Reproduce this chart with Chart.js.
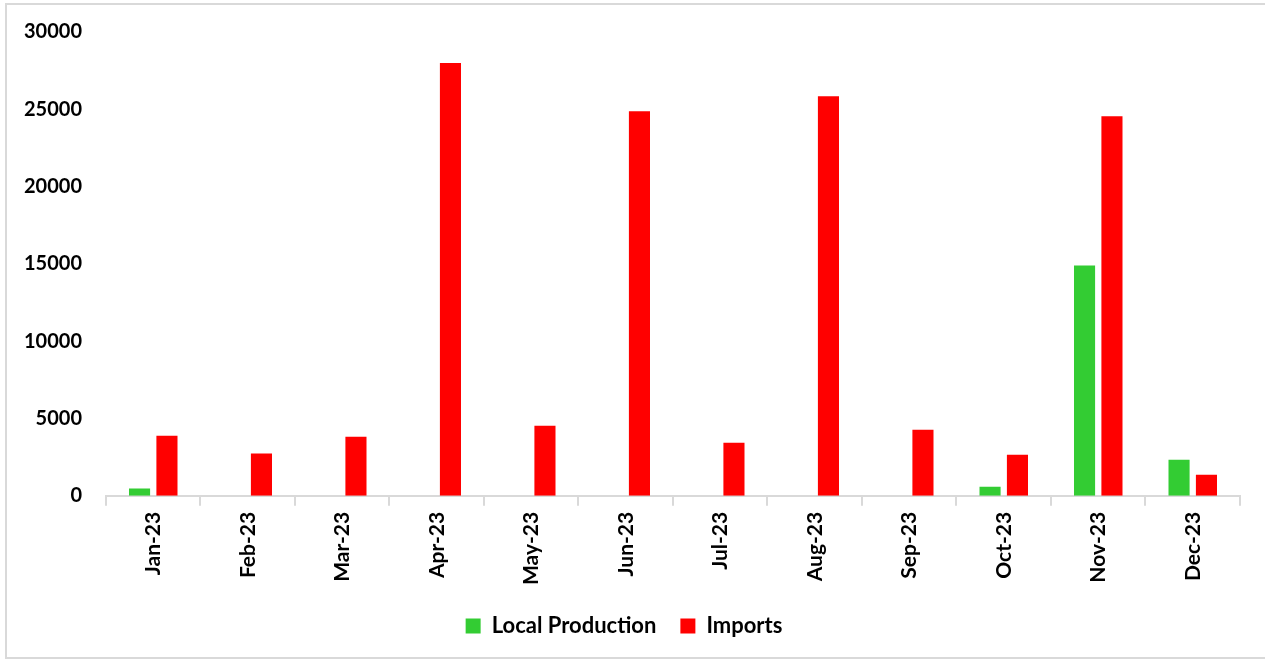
<!DOCTYPE html>
<html>
<head>
<meta charset="utf-8">
<script src="https://cdn.jsdelivr.net/npm/chart.js@4"></script>
<style>
  html, body { margin:0; padding:0; background:#fff; }
  #frame { position:absolute; left:5px; top:3px; width:1262px; height:656px; border:2px solid #d9d9d9; box-sizing:border-box; }
  #wrap { position:absolute; left:0; top:0; width:1265px; height:661px; }
</style>
</head>
<body>
<div id="frame"></div>
<div id="wrap"><canvas id="chart"></canvas></div>
<script>
const months = ['Jan-23','Feb-23','Mar-23','Apr-23','May-23','Jun-23','Jul-23','Aug-23','Sep-23','Oct-23','Nov-23','Dec-23'];
const localProduction = [470, 0, 0, 0, 0, 0, 0, 0, 0, 580, 14900, 2330];
const imports = [3880, 2740, 3820, 28000, 4530, 24870, 3430, 25840, 4270, 2650, 24550, 1360];
const yTicks = [0, 5000, 10000, 15000, 20000, 25000, 30000];

const font = { family: 'Lato, "Open Sans", sans-serif', weight: 'bold', size: 20 };
const xFont = { family: 'Lato, "Open Sans", sans-serif', weight: 'bold', size: 21 };
const legendFont = { family: 'Lato, "Open Sans", sans-serif', weight: 'bold', size: 22 };

new Chart(document.getElementById('chart'), {
    type: 'bar',
    data: {
        labels: months,
        datasets: [
            { label: 'Local Production', data: localProduction, backgroundColor: '#33cc33', categoryPercentage: 0.58, barPercentage: 0.77 },
            { label: 'Imports',          data: imports,         backgroundColor: '#ff0000', categoryPercentage: 0.58, barPercentage: 0.77 }
        ]
    },
    options: {
        responsive: true, maintainAspectRatio: false, animation: false,
        layout: { padding: { left: 8, right: 25, top: 32, bottom: 14 } },
        plugins: {
            legend: {
                position: 'bottom',
                labels: { font: legendFont, color: '#000', boxWidth: 15, boxHeight: 15, padding: 24 }
            },
            tooltip: { enabled: false }
        },
        scales: {
            x: {
                grid: { display: true, drawOnChartArea: false, drawTicks: true, tickLength: 10, color: '#d9d9d9', lineWidth: 2, offset: true },
                border: { color: '#d9d9d9', width: 2 },
                ticks: { font: xFont, color: '#000', maxRotation: 90, minRotation: 90, padding: 6 }
            },
            y: {
                min: 0, max: 30000,
                afterBuildTicks: axis => { axis.ticks = yTicks.map(v => ({ value: v })); },
                grid: { display: false },
                border: { display: false },
                ticks: { font: font, color: '#000', padding: 16, callback: v => String(v) }
            }
        }
    }
});
</script>
</body>
</html>
